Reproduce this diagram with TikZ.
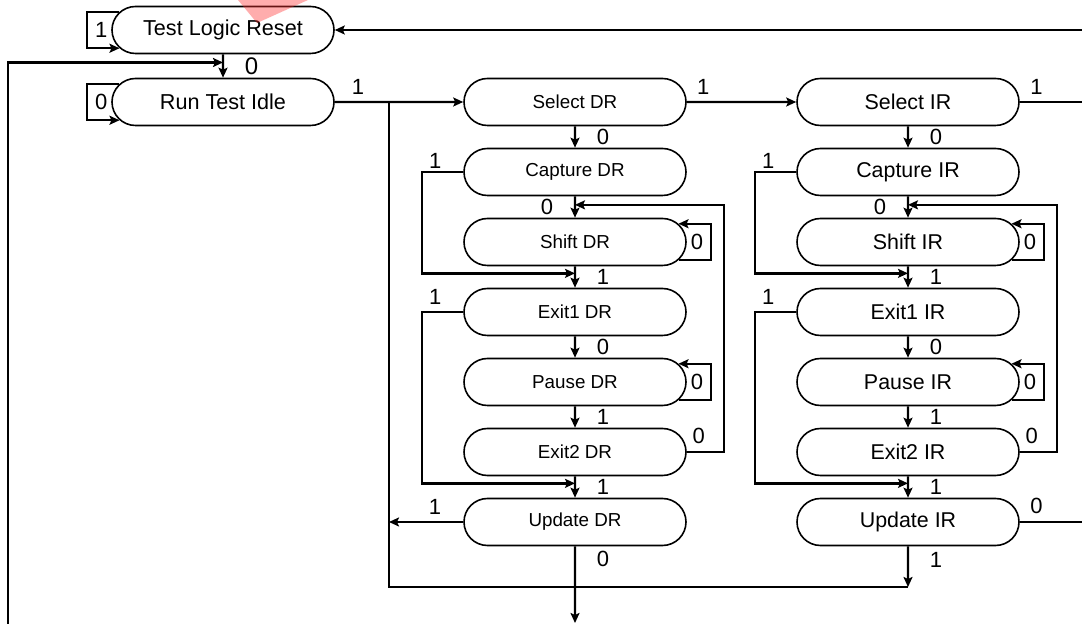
\documentclass[tikz,border=0pt]{standalone}
\usepackage{fontspec}
\setmainfont{Liberation Sans}
\usetikzlibrary{shapes.misc}
\usetikzlibrary{arrows.meta}
\usetikzlibrary{calc}

\tikzset{
    state/.style={rounded rectangle, draw, line width=0.8pt,
        minimum width=115pt, minimum height=23.5pt, inner sep=2pt,
        font=\fontsize{10.8}{12}\selectfont},
    lbl/.style={font=\fontsize{11}{12}\selectfont},
    wire/.style={line width=1.15pt, -{Stealth[length=5pt,width=4.5pt,inset=1pt]}},
}

\begin{document}
\begin{tikzpicture}[x=0.5pt, y=-0.5pt, wire]
        \useasboundingbox (0,0) rectangle (1082,624);
        \fill[white] (0,0) rectangle (1082,624);

        \node[state] (tlr) at (223,30) {Test Logic Reset};
        \node[state] (rti) at (223,102) {Run Test Idle};

        \foreach \c/\x/\fs in {DR/575/9.4, IR/908/10.7} {
            \node[state, font=\fontsize{\fs}{12}\selectfont] (sel\c) at (\x,102) {Select \c};
            \node[state, font=\fontsize{\fs}{12}\selectfont] (cap\c) at (\x,172) {Capture \c};
            \node[state, font=\fontsize{\fs}{12}\selectfont] (shift\c) at (\x,242) {Shift \c};
            \node[state, font=\fontsize{\fs}{12}\selectfont] (exa\c) at (\x,312) {Exit1 \c};
            \node[state, font=\fontsize{\fs}{12}\selectfont] (pause\c) at (\x,382) {Pause \c};
            \node[state, font=\fontsize{\fs}{12}\selectfont] (exb\c) at (\x,452) {Exit2 \c};
            \node[state, font=\fontsize{\fs}{12}\selectfont] (upd\c) at (\x,522) {Update \c};

            \draw (sel\c) -- node[lbl, right=7pt] (s0\c) {0} (cap\c);
            \draw (cap\c) -- node[lbl, left=7pt] (c0\c) {0} (shift\c);
            \draw (shift\c) -- node[lbl, right=7pt] (h1\c) {1} (exa\c);
            \draw (exa\c) -- node[lbl, right=7pt] (e0\c) {0} (pause\c);
            \draw (pause\c) -- node[lbl, right=7pt] (p1\c) {1} (exb\c);
            \draw (exb\c) -- node[lbl, right=7pt] (x1\c) {1} (upd\c);

            \draw (shift\c.-10) -| ([xshift=12pt]shift\c.east) node[lbl, left] (h0\c) {0} |- (shift\c.10);
            \draw (pause\c.-10) -| ([xshift=12pt]pause\c.east) node[lbl, left] (p0\c) {0} |- (pause\c.10);

            \draw (cap\c.west) -- node[lbl, above, pos=.68, inner sep=1pt] (c1\c) {1} ++(-41,0)
                |- ($(shift\c.south)!.33!(exa\c.north)$);
            \draw (exa\c.west) -- node[lbl, above, pos=.68] (e1\c) {1} ++(-41,0)
                |- ($(exb\c.south)!.33!(upd\c.north)$);
            \draw (exb\c.east) -- node[lbl, above, pos=.32] (x0\c) {0} ++(37,0)
                |- ($(cap\c.south)!.4!(shift\c.north)$);
        }

        \coordinate (busL) at (389,587);
        \coordinate (inL) at (8,640);
        \coordinate (outB) at (575,623);

        \draw (tlr.170) -| ([xshift=-12pt]tlr.west) node[lbl, right] (t1) {1} |- (tlr.190);
        \draw (rti.170) -| ([xshift=-12pt]rti.west) node[lbl, right] (r0) {0} |- (rti.190);
        \draw (tlr) -- node[lbl, right=7pt, font=\fontsize{12}{12}\selectfont] (t0) {0} (rti);
        \draw (inL) |- ($(tlr.south)!.35!(rti.north)$);

        \draw (rti) -- node[lbl, above, pos=.18] (r1) {1} (selDR);
        \draw (selDR) -- node[lbl, above, pos=.15] (sd1) {1} (selIR);
        \draw (selIR.east) -- node[lbl, above, pos=.25] (si1) {1} ++(67,0) |- (tlr.east);

        \draw (updDR.west) -- node[lbl, above, pos=.38] (ud1) {1} (updDR -| busL);
        \draw (updDR) -- node[lbl, right=7pt, pos=.17] (ud0) {0} (outB);
        \draw (updIR) -- node[lbl, right=7pt, pos=.33] (ui1) {1} (updIR |- busL);
        \draw[-] (updIR |- busL) -- (busL) -- (busL |- rti);
        \draw[-] (updIR.east) -- node[lbl, above, pos=.25] (ui0) {0} ++(67,0);

        %\draw[help lines] (0,0) grid[step=50] (1082,624);
        \fill[red!80, opacity=.4] (238,0) -- (308,0) -- (257,23) -- cycle;
\end{tikzpicture}
\end{document}
